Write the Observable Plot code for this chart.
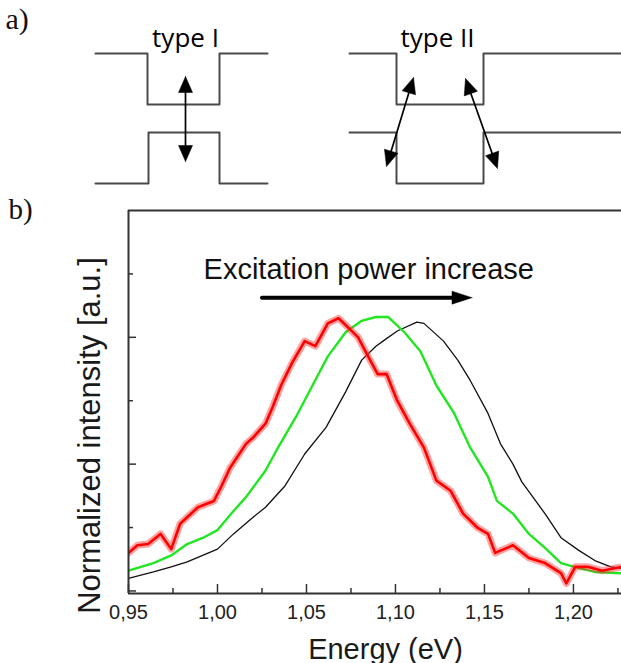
<!DOCTYPE html>
<html>
<head>
<meta charset="utf-8">
<script src="https://cdn.jsdelivr.net/npm/d3@7"></script>
<script src="https://cdn.jsdelivr.net/npm/@observablehq/plot@0.6"></script>
<style>
  body { margin: 0; background: #fff; }
  #fig svg { display: block; }
</style>
</head>
<body>
<div id="fig"></div>
<script>
// ---------- Panel b data ----------
const energyBlack = [0.950,0.964,0.974,0.983,1.000,1.009,1.019,1.027,1.038,1.049,1.061,1.072,1.081,1.089,1.093,1.101,1.112,1.116,1.127,1.135,1.142,1.152,1.159,1.166,1.171,1.184,1.193,1.203,1.212,1.221,1.227];
const intensityBlack = [0.10,0.15,0.19,0.23,0.33,0.45,0.57,0.66,0.83,1.08,1.29,1.57,1.82,1.93,1.97,2.05,2.12,2.11,1.97,1.82,1.66,1.40,1.16,1.00,0.86,0.61,0.42,0.32,0.24,0.19,0.18];

const energyGreen = [0.950,0.957,0.964,0.974,0.983,0.992,1.000,1.009,1.016,1.027,1.034,1.044,1.053,1.062,1.072,1.081,1.089,1.096,1.105,1.114,1.123,1.133,1.142,1.152,1.157,1.166,1.175,1.184,1.193,1.203,1.212,1.227];
const intensityGreen = [0.16,0.19,0.22,0.28,0.37,0.42,0.48,0.63,0.74,0.95,1.13,1.37,1.61,1.85,2.04,2.13,2.16,2.16,2.04,1.89,1.62,1.40,1.13,0.90,0.71,0.61,0.45,0.34,0.22,0.18,0.15,0.14];

const energyRed = [0.950,0.955,0.961,0.968,0.974,0.979,0.989,0.998,1.002,1.007,1.016,1.020,1.027,1.031,1.036,1.042,1.049,1.055,1.062,1.068,1.074,1.079,1.085,1.090,1.095,1.101,1.108,1.116,1.123,1.131,1.138,1.146,1.152,1.156,1.166,1.175,1.184,1.193,1.196,1.201,1.208,1.216,1.227];
const intensityRed = [0.30,0.36,0.37,0.45,0.33,0.53,0.66,0.71,0.82,0.97,1.16,1.21,1.32,1.45,1.63,1.80,1.97,1.93,2.11,2.15,2.07,2.00,1.84,1.71,1.71,1.50,1.32,1.13,0.87,0.79,0.61,0.50,0.45,0.30,0.36,0.26,0.22,0.14,0.06,0.19,0.19,0.16,0.19];

const xDomain = [0.95, 1.227];
const yDomain = [-0.02, 3.0];
const xMajorTicks = [0.95, 1.00, 1.05, 1.10, 1.15, 1.20];
const xMinorTicks = [0.975, 1.025, 1.075, 1.125, 1.175, 1.225];
const yMajorTicks = [0, 1, 2];
const yMinorTicks = [0.5, 1.5, 2.5];

const annotationText = ["Excitation power increase"];
const annotationX = [1.085];
const annotationY = [2.46];
const arrowFrom = 1.025, arrowTo = 1.143, arrowLevel = 2.313;

const xLabel = "Energy (eV)";
const yLabel = "Normalized intensity [a.u.]";

// ---------- Panel a schematic (diagram units) ----------
const bandTypeICB = [[95,53],[147,53],[147,104],[219,104],[219,53],[267,53]];
const bandTypeIVB = [[95,183],[148,183],[148,132],[219,132],[219,183],[267,183]];
const bandTypeIICB = [[349,53],[396,53],[396,104],[483,104],[483,53],[625,53]];
const bandTypeIIVB = [[349,132],[396,132],[396,183],[483,183],[483,132],[625,132]];
const transitions = [[[185,76],[185,161]], [[413,77],[386,166]], [[465,78],[497,168]]];
const panelATexts = [
  {label: "type I", x: 185, y: 46},
  {label: "type II", x: 437, y: 46}
];

// ---------- Panel a ----------
function tri(tip, from, len, halfW) {
  const dx = tip[0] - from[0], dy = tip[1] - from[1];
  const L = Math.hypot(dx, dy), ux = dx / L, uy = dy / L;
  const bx = tip[0] - ux * len, by = tip[1] - uy * len;
  return [[tip[0], tip[1]], [bx - uy * halfW, by + ux * halfW], [bx + uy * halfW, by - ux * halfW], [tip[0], tip[1]]];
}
const bandRows = [];
[bandTypeICB, bandTypeIVB, bandTypeIICB, bandTypeIIVB].forEach((pts, i) =>
  pts.forEach(([x, y]) => bandRows.push({g: i, x, y})));
const shaftRows = [], headRows = [];
transitions.forEach(([a, b], i) => {
  const hl = 16;
  const dx = b[0] - a[0], dy = b[1] - a[1], L = Math.hypot(dx, dy);
  const ux = dx / L, uy = dy / L;
  shaftRows.push({g: i, x: a[0] + ux * hl * 0.8, y: a[1] + uy * hl * 0.8});
  shaftRows.push({g: i, x: b[0] - ux * hl * 0.8, y: b[1] - uy * hl * 0.8});
  tri(a, b, hl, 7).forEach(([x, y]) => headRows.push({g: "a" + i, x, y}));
  tri(b, a, hl, 7).forEach(([x, y]) => headRows.push({g: "b" + i, x, y}));
});

const panelA = Plot.plot({
  width: 621, height: 190,
  marginTop: 0, marginBottom: 0, marginLeft: 0, marginRight: 0,
  x: {domain: [0, 621], axis: null},
  y: {domain: [0, 190], range: [0, 190], axis: null},
  style: {background: "white"},
  marks: [
    Plot.line(bandRows, {x: "x", y: "y", z: "g", stroke: "#4a4a4a", strokeWidth: 2}),
    Plot.line(shaftRows, {x: "x", y: "y", z: "g", stroke: "#000", strokeWidth: 1.7}),
    Plot.line(headRows, {x: "x", y: "y", z: "g", fill: "#000", stroke: "#000", strokeWidth: 0.5}),
    Plot.text(panelATexts, {x: "x", y: "y", text: "label", fontFamily: "Open Sans", fontSize: 26, fill: "#000", lineAnchor: "bottom", textAnchor: "middle"}),
    Plot.text(["a)"], {x: [5], y: [28], text: d => d, fontFamily: "Liberation Serif", fontSize: 30, fill: "#111", textAnchor: "start", lineAnchor: "bottom"})
  ]
});

// ---------- Panel b ----------
const W = 621, H = 473, mT = 20, mB = 70, mL = 128, mR = 0;
const innerW = W - mL - mR, innerH = H - mT - mB;
const kx = innerW / (xDomain[1] - xDomain[0]);
const ky = innerH / (yDomain[1] - yDomain[0]);

const toRows = (E, I) => E.map((e, i) => ({e, v: I[i]}));
const black = toRows(energyBlack, intensityBlack);
const green = toRows(energyGreen, intensityGreen);
const red = toRows(energyRed, intensityRed);

const headLen = 20 / kx, headHalf = 6.5 / ky;
const arrowShaft = [{e: arrowFrom, v: arrowLevel}, {e: arrowTo - headLen * 0.9, v: arrowLevel}];
const arrowHead = [
  {e: arrowTo, v: arrowLevel},
  {e: arrowTo - headLen, v: arrowLevel + headHalf},
  {e: arrowTo - headLen, v: arrowLevel - headHalf},
  {e: arrowTo, v: arrowLevel}
];
const fmt = d => d.toFixed(2).replace(".", ",");
const axisColor = "#333";

const panelB = Plot.plot({
  width: W, height: H,
  marginTop: mT, marginBottom: mB, marginLeft: mL, marginRight: mR,
  x: {domain: xDomain, label: null},
  y: {domain: yDomain, axis: null, label: null},
  style: {background: "white", fontFamily: "Liberation Sans, Arial, sans-serif"},
  marks: [
    Plot.line(black, {x: "e", y: "v", stroke: "#111", strokeWidth: 1.3, clip: true}),
    Plot.line(green, {x: "e", y: "v", stroke: "#22e622", strokeWidth: 2.4, clip: true}),
    Plot.line(red, {x: "e", y: "v", stroke: "#ff3030", strokeOpacity: 0.45, strokeWidth: 7, clip: true}),
    Plot.line(red, {x: "e", y: "v", stroke: "#ff0000", strokeWidth: 2.6, clip: true}),
    // frame
    Plot.ruleX([xDomain[0]], {stroke: axisColor, strokeWidth: 2}),
    Plot.ruleY([yDomain[0]], {stroke: axisColor, strokeWidth: 2}),
    Plot.ruleY([yDomain[1]], {stroke: axisColor, strokeWidth: 2}),
    // inward ticks
    Plot.tickX(xMajorTicks, {x: d => d, insetTop: innerH - 9, stroke: axisColor, strokeWidth: 1.5}),
    Plot.tickX(xMinorTicks, {x: d => d, insetTop: innerH - 5, stroke: axisColor, strokeWidth: 1.5}),
    Plot.tickY(yMajorTicks, {y: d => d, insetRight: innerW - 8, stroke: axisColor, strokeWidth: 1.5}),
    Plot.tickY(yMinorTicks, {y: d => d, insetRight: innerW - 5, stroke: axisColor, strokeWidth: 1.5}),
    Plot.axisX(xMajorTicks, {tickSize: 0, tickPadding: 11, tickFormat: fmt, fontSize: 20, label: null, fill: "#222"}),
    // annotation
    Plot.text(annotationText, {x: annotationX, y: annotationY, text: d => d, fontSize: 29, fill: "#111", lineAnchor: "bottom", textAnchor: "middle"}),
    Plot.line(arrowShaft, {x: "e", y: "v", stroke: "#000", strokeWidth: 4}),
    Plot.line(arrowHead, {x: "e", y: "v", fill: "#000", stroke: "#000", strokeWidth: 0.5}),
    // axis labels
    Plot.text([xLabel], {frameAnchor: "bottom", text: d => d, dx: 10.5, dy: 65, fontSize: 29, fill: "#1a1a1a", lineAnchor: "bottom", textAnchor: "middle"}),
    Plot.text([yLabel], {frameAnchor: "left", text: d => d, rotate: -90, dx: -38, dy: 33.5, fontSize: 31, fill: "#1a1a1a", lineAnchor: "middle", textAnchor: "middle"}),
    Plot.text(["b)"], {frameAnchor: "top-left", text: d => d, dx: -120, dy: 8, fontFamily: "Liberation Serif", fontSize: 29, fill: "#111", textAnchor: "start", lineAnchor: "bottom"})
  ]
});

const fig = document.getElementById("fig");
fig.appendChild(panelA);
fig.appendChild(panelB);
</script>
</body>
</html>
